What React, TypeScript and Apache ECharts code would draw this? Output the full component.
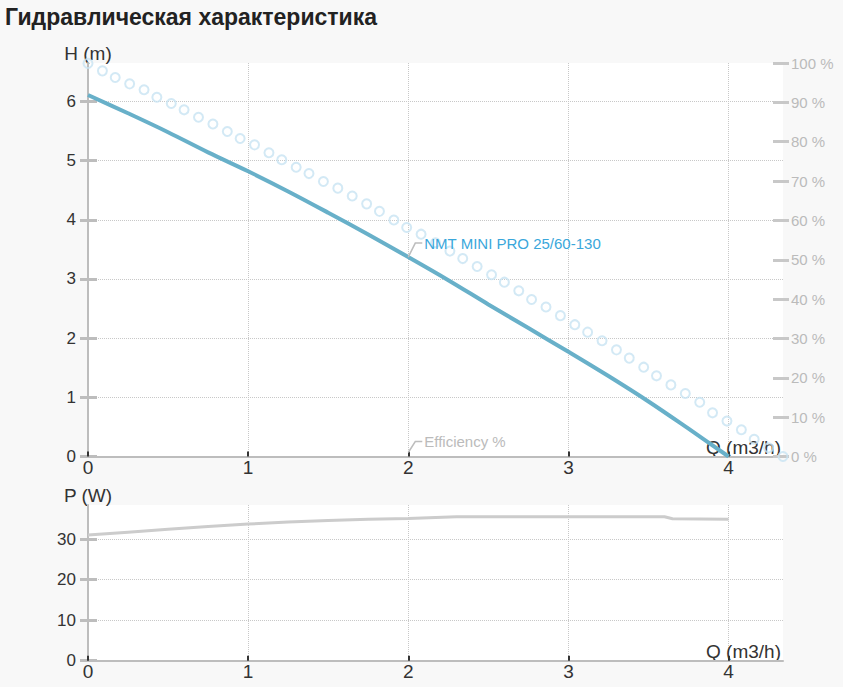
import React, { useEffect, useRef } from "react";
import * as echarts from "echarts";

const TITLE = "Гидравлическая характеристика";
const SERIES_NAME = "NMT MINI PRO 25/60-130";
const EFF_NAME = "Efficiency %";

// Head curve H(Q)
const Q_H = [0, 0.25, 0.5, 0.75, 1, 1.25, 1.5, 1.75, 2, 2.25, 2.5, 2.75, 3, 3.25, 3.5, 3.75, 4];
const H = [6.11, 5.8, 5.48, 5.14, 4.82, 4.48, 4.12, 3.75, 3.37, 2.98, 2.57, 2.17, 1.77, 1.36, 0.93, 0.47, 0];

// Efficiency (dotted circles), right axis %
const EFF_Q = [
  0, 0.09, 0.17, 0.26, 0.35, 0.43, 0.52, 0.6, 0.69, 0.78, 0.87, 0.95, 1.04, 1.13, 1.21, 1.3, 1.38,
  1.47, 1.56, 1.65, 1.74, 1.82, 1.91, 1.99, 2.08, 2.17, 2.26, 2.34, 2.43, 2.52, 2.6, 2.69, 2.77,
  2.86, 2.95, 3.04, 3.12, 3.21, 3.3, 3.38, 3.47, 3.55, 3.64, 3.73, 3.82, 3.9, 3.99, 4.08, 4.16,
  4.25, 4.34,
];
const EFF = [
  99.9, 98.0, 96.3, 94.7, 93.2, 91.3, 89.7, 88.1, 86.2, 84.5, 82.6, 80.8, 79.2, 77.2, 75.4, 73.5,
  71.9, 69.9, 68.2, 66.2, 64.2, 62.3, 60.1, 58.2, 56.5, 54.3, 52.2, 50.3, 48.3, 46.2, 44.3, 42.1,
  39.9, 38.0, 35.8, 33.5, 31.6, 29.4, 27.1, 25.0, 22.7, 20.5, 18.2, 16.0, 13.8, 11.1, 9.0, 6.8,
  4.4, 2.2, 0,
];

// Power curve P(Q)
const P_Q = [0, 0.25, 0.5, 0.75, 1, 1.25, 1.5, 1.75, 2, 2.3, 3, 3.6, 3.65, 4];
const P = [31.0, 31.7, 32.4, 33.1, 33.7, 34.2, 34.6, 34.9, 35.1, 35.5, 35.5, 35.5, 35.0, 34.9];

const Q_TICKS = [0, 1, 2, 3, 4];
const H_TICKS = [0, 1, 2, 3, 4, 5, 6];
const P_TICKS = [0, 10, 20, 30];
const PCT_TICKS = [0, 10, 20, 30, 40, 50, 60, 70, 80, 90, 100];

const LABEL_Q = 2;

const FONT = 'Arial, "Liberation Sans", sans-serif';
const AXIS_GRAY = "#bdbdbd";
const DARK = "#333333";

function xAxisCfg(gridIndex: number) {
  return {
    type: "value",
    gridIndex,
    min: 0,
    max: 4.34,
    interval: 1,
    position: "bottom",
    name: "Q (m3/h)",
    nameLocation: "end",
    nameGap: -2,
    nameTextStyle: { color: DARK, fontSize: 19, align: "right", verticalAlign: "bottom", fontFamily: FONT },
    axisLine: { show: true, lineStyle: { color: AXIS_GRAY, width: 2 } },
    axisTick: { show: true, inside: true, length: 5, customValues: Q_TICKS, lineStyle: { color: DARK, width: 2 } },
    axisLabel: { show: true, customValues: Q_TICKS, color: DARK, fontSize: 19, margin: 1, fontFamily: FONT },
    splitLine: { show: true, lineStyle: { color: "#c8c8c8", type: "dotted", width: 1 } },
  };
}

function yMain(gridIndex: number, name: string, max: number, interval: number, ticks: number[]) {
  return {
    type: "value",
    gridIndex,
    position: "left",
    min: 0,
    max,
    interval,
    name,
    nameLocation: "end",
    nameGap: 0,
    nameTextStyle: { color: DARK, fontSize: 19, align: "center", verticalAlign: "bottom", fontFamily: FONT },
    axisLine: { show: true, lineStyle: { color: AXIS_GRAY, width: 2 } },
    axisTick: { show: true, inside: false, length: 8, customValues: ticks, lineStyle: { color: AXIS_GRAY, width: 3 } },
    axisLabel: { show: true, customValues: ticks, color: DARK, fontSize: 17, margin: 12, padding: [0, 0, 8, 0], fontFamily: FONT },
    splitLine: { show: true, lineStyle: { color: "#c8c8c8", type: "dotted", width: 1 } },
  };
}

function yDup(gridIndex: number, position: string, max: number, interval: number, ticks: number[], len: number, color: string) {
  return {
    type: "value",
    gridIndex,
    position,
    min: 0,
    max,
    interval,
    axisLine: { show: false },
    axisTick: { show: true, inside: true, length: len, customValues: ticks, lineStyle: { color, width: 3 } },
    axisLabel: { show: false },
    splitLine: { show: false },
  };
}

export default function App() {
  const ref = useRef<HTMLDivElement>(null);

  useEffect(() => {
    document.body.style.margin = "0";
    document.body.style.background = "#f8f8f8";
    if (!ref.current) return;
    const chart = echarts.init(ref.current, undefined, { renderer: "svg" });

    chart.setOption({
      animation: false,
      backgroundColor: "#f8f8f8",
      textStyle: { fontFamily: FONT },
      title: {
        text: TITLE,
        left: 0,
        top: 0,
        textStyle: { fontSize: 23, fontWeight: "bold", color: "#222", fontFamily: FONT },
      },
      grid: [
        { left: 88, top: 63, width: 695, height: 393.5, show: true, backgroundColor: "#ffffff", borderWidth: 0, containLabel: false, outerBoundsMode: "none" },
        { left: 88, top: 505, width: 695, height: 155.7, show: true, backgroundColor: "#ffffff", borderWidth: 0, containLabel: false, outerBoundsMode: "none" },
      ],
      xAxis: [xAxisCfg(0), xAxisCfg(1)],
      yAxis: [
        yMain(0, "H (m)", 6.65, 1, H_TICKS),
        {
          type: "value",
          gridIndex: 0,
          position: "right",
          min: 0,
          max: 100,
          interval: 10,
          axisLine: { show: false },
          axisTick: { show: true, inside: false, length: 6, customValues: PCT_TICKS, lineStyle: { color: "#c8c8c8", width: 3 } },
          axisLabel: {
            show: true,
            customValues: PCT_TICKS,
            color: "#bbbbbb",
            fontSize: 15,
            margin: 8,
            padding: [0, 0, 8, 0],
            fontFamily: FONT,
            formatter: "{value} %",
          },
          splitLine: { show: false },
        },
        yDup(0, "left", 6.65, 1, H_TICKS, 9, AXIS_GRAY),
        yDup(0, "right", 100, 10, PCT_TICKS, 10, "#c8c8c8"),
        yMain(1, "P (W)", 38.4, 10, P_TICKS),
        yDup(1, "left", 38.4, 10, P_TICKS, 9, AXIS_GRAY),
      ],
      series: [
        {
          name: EFF_NAME,
          type: "scatter",
          xAxisIndex: 0,
          yAxisIndex: 1,
          data: EFF_Q.map((q, i) => [q, EFF[i]]),
          symbol: "circle",
          symbolSize: 9,
          clip: false,
          itemStyle: { color: "rgba(255,255,255,0)", borderColor: "#c8e4f3", borderWidth: 2 },
          z: 2,
        },
        {
          name: SERIES_NAME,
          type: "line",
          xAxisIndex: 0,
          yAxisIndex: 0,
          data: Q_H.map((q, i) => [q, H[i]]),
          showSymbol: false,
          symbol: "none",
          smooth: 0.35,
          lineStyle: { color: "#68b0c9", width: 4 },
          z: 3,
        },
        {
          name: "P",
          type: "line",
          xAxisIndex: 1,
          yAxisIndex: 4,
          data: P_Q.map((q, i) => [q, P[i]]),
          showSymbol: false,
          symbol: "none",
          lineStyle: { color: "#cccccc", width: 3 },
          z: 3,
        },
      ],
    });

    const hIdx = Q_H.indexOf(LABEL_Q);
    const a = chart.convertToPixel({ xAxisIndex: 0, yAxisIndex: 0 }, [LABEL_Q, H[hIdx]]) as number[];
    const b = chart.convertToPixel({ xAxisIndex: 0, yAxisIndex: 1 }, [LABEL_Q, 0]) as number[];

    chart.setOption({
      graphic: [
        {
          type: "polyline",
          shape: { points: [[a[0], a[1]], [a[0] + 7, a[1] - 14], [a[0] + 14, a[1] - 14]] },
          style: { stroke: "#bdbdbd", lineWidth: 1.5, fill: "none" },
          z: 10,
        },
        {
          type: "text",
          x: a[0] + 16,
          y: a[1] - 14,
          style: { text: SERIES_NAME, fill: "#3aa7db", fontSize: 15, fontFamily: FONT, verticalAlign: "middle", align: "left" },
          z: 10,
        },
        {
          type: "polyline",
          shape: { points: [[b[0], b[1] - 4], [b[0] + 7, b[1] - 15], [b[0] + 14, b[1] - 15]] },
          style: { stroke: "#bdbdbd", lineWidth: 1.5, fill: "none" },
          z: 10,
        },
        {
          type: "text",
          x: b[0] + 16,
          y: b[1] - 15,
          style: { text: EFF_NAME, fill: "#bbbbbb", fontSize: 15, fontFamily: FONT, verticalAlign: "middle", align: "left" },
          z: 10,
        },
      ],
    });

    return () => chart.dispose();
  }, []);

  return (
    <div style={{ position: "absolute", left: 0, top: 0, width: 843, height: 687, background: "#f8f8f8", overflow: "hidden" }}>
      <div ref={ref} style={{ width: 843, height: 687 }} />
    </div>
  );
}
